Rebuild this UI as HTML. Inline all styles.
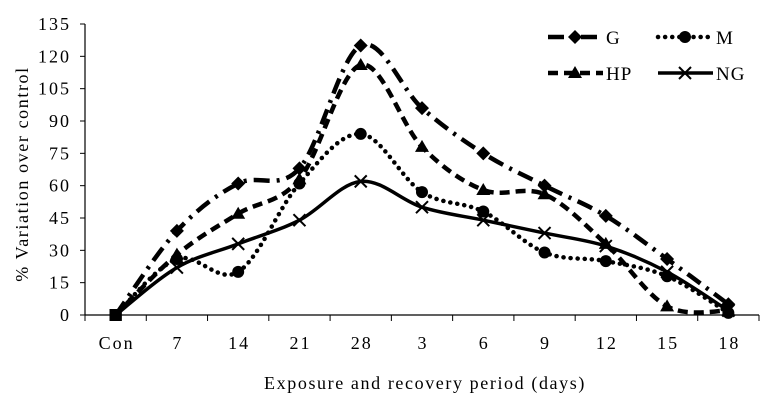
<!DOCTYPE html>
<html><head><meta charset="utf-8"><style>
body{margin:0;background:#fff}
svg{display:block;font-family:"Liberation Serif",serif}
</style></head><body>
<svg id="chart" width="775" height="408" viewBox="0 0 775 408"></svg>
<script>
const categories=["Con","7","14","21","28","3","6","9","12","15","18"];
const yTicks=[0,15,30,45,60,75,90,105,120,135];
const seriesNames=["G","M","HP","NG"];
const gValues=[0,39,61,68,125,96,75,60,46,26,5];
const mValues=[0,26,20,61,84,57,48,29,25,18,1];
const hpValues=[0,28,47,63,116,78,58,56,33,4,2];
const ngValues=[0,22,33,44,62,50,44,38,32,20,2];

const NS="http://www.w3.org/2000/svg";
const svg=document.getElementById('chart');
const x0=85,x1=759,y0=315,y1=24;
function xPos(i){return x0+(i+0.5)*(x1-x0)/categories.length;}
function yPos(v){return y0-(v/135)*(y0-y1);}
function mk(t,a,p){const e=document.createElementNS(NS,t);for(const k in a)e.setAttribute(k,a[k]);(p||svg).appendChild(e);return e;}

const axes=mk('g',{});


mk('line',{x1:x0,y1:y0,x2:x1,y2:y0,stroke:'#000','stroke-width':1.2},axes);
mk('line',{x1:x0,y1:y1,x2:x0,y2:y0,stroke:'#000','stroke-width':1.2},axes);
yTicks.forEach(v=>{
  mk('line',{x1:x0-5,y1:yPos(v),x2:x0,y2:yPos(v),stroke:'#000'},axes);
  const t=mk('text',{x:x0-14,y:yPos(v)+6,'text-anchor':'end','font-size':18,'letter-spacing':2},axes);
  t.textContent=v;
  
  
});
for(let i=0;i<=categories.length;i++){
  const x=x0+i*(x1-x0)/categories.length;
  mk('line',{x1:x,y1:y0,x2:x,y2:y0+6,stroke:'#000'},axes);
}
categories.forEach((c,i)=>{
  const t=mk('text',{x:xPos(i)+1,y:349,'text-anchor':'middle','font-size':18,'letter-spacing':2},axes);
  t.textContent=c;
  
  
});
const xt=mk('text',{x:425,y:389,'text-anchor':'middle','font-size':18,'letter-spacing':1.6});
xt.textContent="Exposure and recovery period (days)";


const yt=mk('text',{x:0,y:0,'text-anchor':'middle','font-size':18,'letter-spacing':1.6,transform:'translate(28,174) rotate(-90)'});
yt.textContent="% Variation over control";



function smooth(pts){
  let d=`M${pts[0][0]},${pts[0][1]}`;
  for(let i=0;i<pts.length-1;i++){
    const p0=pts[i-1]||pts[i],p1=pts[i],p2=pts[i+1],p3=pts[i+2]||p2;
    const c1=[p1[0]+(p2[0]-p0[0])/6,p1[1]+(p2[1]-p0[1])/6];
    const c2=[p2[0]-(p3[0]-p1[0])/6,p2[1]-(p3[1]-p1[1])/6];
    d+=` C${c1[0]},${c1[1]} ${c2[0]},${c2[1]} ${p2[0]},${p2[1]}`;
  }
  return d;
}
const styles={
  G:{dash:'16,7,3,7',w:4.5,cap:'butt'},
  M:{dash:'0.1,7',w:4.5,cap:'round'},
  HP:{dash:'10,6',w:4.5,cap:'butt'},
  NG:{dash:'none',w:3.5,cap:'butt'}
};
function marker(name,x,y,p){
  if(name==='G') return mk('polygon',{points:`${x},${y-7} ${x+7},${y} ${x},${y+7} ${x-7},${y}`,fill:'#000'},p);
  if(name==='M') return mk('circle',{cx:x,cy:y,r:6,fill:'#000'},p);
  if(name==='HP') return mk('polygon',{points:`${x},${y-7} ${x+7},${y+5} ${x-7},${y+5}`,fill:'#000'},p);
  return mk('path',{d:`M${x-6},${y-6}L${x+6},${y+6}M${x+6},${y-6}L${x-6},${y+6}`,stroke:'#000','stroke-width':2},p);
}
const allVals={G:gValues,M:mValues,HP:hpValues,NG:ngValues};
seriesNames.forEach(n=>{
  const g=mk('g',{});
  
  
  const pts=allVals[n].map((v,i)=>[xPos(i),yPos(v)]);
  const s=styles[n];
  mk('path',{d:smooth(pts),fill:'none',stroke:'#000','stroke-width':s.w,'stroke-dasharray':s.dash,'stroke-linecap':s.cap},g);
  pts.forEach((p,i)=>{
    if(i===0){mk('rect',{x:p[0]-6,y:p[1]-6,width:12,height:12,fill:'#000'},g);return;}
    marker(n,p[0],p[1],g);
  });
});
const leg=mk('g',{});


const legPos={G:[548,37],M:[658,37],HP:[548,73],NG:[658,73]};
seriesNames.forEach(n=>{
  const [lx,ly]=legPos[n];
  const e=mk('g',{},leg);
  
  
  const s=styles[n];
  mk('line',{x1:lx,y1:ly,x2:lx+55,y2:ly,stroke:'#000','stroke-width':s.w,'stroke-dasharray':s.dash,'stroke-linecap':s.cap},e);
  marker(n,lx+27,ly,e);
  const t=mk('text',{x:lx+58,y:ly+7,'font-size':19,'letter-spacing':1},e);
  t.textContent=n;
});
</script>
</body></html>
